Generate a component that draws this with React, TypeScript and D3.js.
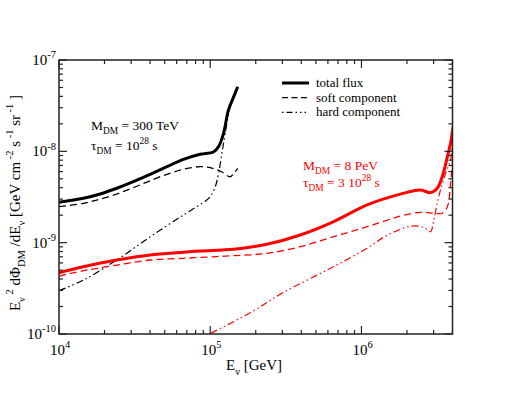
import React from "react";
import * as d3 from "d3";

// ---------- data (E in GeV, E^2 dPhi/dE in GeV cm^-2 s^-1 sr^-1) ----------
const blackTotal: [number, number][] = [
  [1.0e4, 2.77e-9], [1.45e4, 3.06e-9], [1.87e4, 3.41e-9], [2.41e4, 3.94e-9],
  [3.1e4, 4.65e-9], [4.01e4, 5.61e-9], [5.17e4, 6.79e-9], [6.65e4, 8.18e-9],
  [8.59e4, 9.29e-9], [1.05e5, 9.84e-9], [1.135e5, 1.125e-8], [1.225e5, 1.575e-8],
  [1.32e5, 2.84e-8], [1.43e5, 3.97e-8], [1.52e5, 5.1e-8],
];
const blackSoft: [number, number][] = [
  [1.0e4, 2.48e-9], [1.45e4, 2.7e-9], [1.87e4, 2.99e-9], [2.41e4, 3.41e-9],
  [3.1e4, 4.0e-9], [4.01e4, 4.77e-9], [5.17e4, 5.61e-9], [6.65e4, 6.36e-9],
  [8.59e4, 6.79e-9], [1.0e5, 6.62e-9], [1.165e5, 6.09e-9], [1.355e5, 5.27e-9],
  [1.43e5, 5.74e-9], [1.52e5, 6.52e-9],
];
const blackHard: [number, number][] = [
  [1.0e4, 2.98e-10], [1.45e4, 3.9e-10], [2.41e4, 6.46e-10], [4.01e4, 1.16e-9],
  [6.65e4, 2.01e-9], [9.49e4, 2.93e-9], [1.0e5, 3.19e-9], [1.08e5, 4.1e-9],
  [1.135e5, 5.74e-9], [1.195e5, 9.51e-9], [1.256e5, 1.575e-8], [1.355e5, 3.08e-8],
  [1.465e5, 4.5e-8], [1.52e5, 5.1e-8],
];
const redTotal: [number, number][] = [
  [1.0e4, 4.69e-10], [1.45e4, 5.46e-10], [2.41e4, 6.46e-10], [4.01e4, 7.33e-10],
  [6.65e4, 7.84e-10], [8.59e4, 8.11e-10], [1.426e5, 8.45e-10], [2.37e5, 9.59e-10],
  [3.94e5, 1.213e-9], [6.56e5, 1.7e-9], [1.09e6, 2.59e-9], [1.81e6, 3.4e-9],
  [2.46e6, 3.77e-9], [2.86e6, 3.53e-9], [3.17e6, 3.94e-9], [3.42e6, 5.27e-9],
  [3.7e6, 8.73e-9], [3.88e6, 1.224e-8], [4.04e6, 1.86e-8],
];
const redSoft: [number, number][] = [
  [1.0e4, 4.31e-10], [1.45e4, 4.93e-10], [2.41e4, 5.69e-10], [4.01e4, 6.46e-10],
  [6.65e4, 6.74e-10], [1.107e5, 7.05e-10], [1.426e5, 7.2e-10], [2.37e5, 7.63e-10],
  [3.94e5, 9.03e-10], [6.56e5, 1.162e-9], [1.09e6, 1.496e-9], [1.81e6, 1.95e-9],
  [2.46e6, 2.15e-9], [3.01e6, 2.1e-9], [3.42e6, 2.1e-9], [3.7e6, 2.48e-9],
  [3.88e6, 4.47e-9], [4.03e6, 8.73e-9],
];
const redHard: [number, number][] = [
  [1.01e5, 1.02e-10], [1.84e5, 1.71e-10], [3.06e5, 2.86e-10], [5.93e5, 5.02e-10],
  [1.09e6, 8.67e-10], [1.405e6, 1.15e-9], [1.81e6, 1.4e-9], [2.15e6, 1.52e-9],
  [2.59e6, 1.47e-9], [2.86e6, 1.318e-9], [3.01e6, 1.77e-9], [3.17e6, 2.7e-9],
  [3.33e6, 3.77e-9], [3.6e6, 5.74e-9], [3.88e6, 8.04e-9], [3.98e6, 1.224e-8],
];

const xMajor = [4, 5, 6];
const yMajor = [-10, -9, -8, -7];
const legendLabels = ["total flux", "soft component", "hard component"];

// ---------- layout ----------
const W = 510, H = 394;
const L = 59, R = 452.5, T = 60, B = 334;
const FONT = "'Liberation Serif', 'Times New Roman', serif";

const x = d3.scaleLog().domain([1e4, 4e6]).range([L, R]);
const y = d3.scaleLog().domain([1e-10, 1e-7]).range([B, T]);

const line = d3
  .line<[number, number]>()
  .x((d) => x(d[0]))
  .y((d) => y(d[1]))
  .curve(d3.curveCatmullRom.alpha(0.5));

type Seg = { t: string; s?: "sub" | "sup" };
function Rich({ segs, size, ...rest }: { segs: Seg[]; size: number; [k: string]: any }) {
  let cur = 0;
  return (
    <text fontFamily={FONT} fontSize={size} {...rest}>
      {segs.map((sg, i) => {
        const target = sg.s === "sub" ? size * 0.3 : sg.s === "sup" ? -size * 0.45 : 0;
        const dy = target - cur;
        cur = target;
        return (
          <tspan key={i} dy={dy} fontSize={sg.s ? size * 0.7 : size}>
            {sg.t}
          </tspan>
        );
      })}
    </text>
  );
}

const SOFT_DASH = "7,4";
const HARD_DASH = "7,3,1.5,3,1.5,3";

export default function App() {
  const xMinor: number[] = [];
  for (let d = 4; d <= 6; d++)
    for (let k = 2; k <= 9; k++) {
      const v = k * Math.pow(10, d);
      if (v <= 4e6) xMinor.push(v);
    }
  const yMinor: number[] = [];
  for (let d = -10; d < -7; d++)
    for (let k = 2; k <= 9; k++) yMinor.push(k * Math.pow(10, d));

  const axisColor = "#222";
  const series = [
    { data: blackTotal, color: "#000", w: 3, dash: undefined },
    { data: blackSoft, color: "#000", w: 1.3, dash: SOFT_DASH },
    { data: blackHard, color: "#000", w: 1.2, dash: HARD_DASH },
    { data: redTotal, color: "#ff0000", w: 3, dash: undefined },
    { data: redSoft, color: "#ff0000", w: 1.3, dash: SOFT_DASH },
    { data: redHard, color: "#ff0000", w: 1.2, dash: HARD_DASH },
  ];

  return (
    <svg width={W} height={H} style={{ position: "absolute", left: 0, top: 0 }}>
      <defs>
        <clipPath id="plot">
          <rect x={L} y={T} width={R - L} height={B - T} />
        </clipPath>
      </defs>
      <rect width={W} height={H} fill="#fff" />

      <g clipPath="url(#plot)" fill="none">
        {series.map((s, i) => (
          <path
            key={i}
            d={line(s.data) || ""}
            stroke={s.color}
            strokeWidth={s.w}
            strokeDasharray={s.dash}
            strokeLinejoin="round"
          />
        ))}
      </g>

      {/* ticks */}
      <g stroke={axisColor} strokeWidth={1.2}>
        {xMajor.map((e) => {
          const px = x(Math.pow(10, e));
          return (
            <g key={"xm" + e}>
              <line x1={px} x2={px} y1={B} y2={B - 8} />
              <line x1={px} x2={px} y1={T} y2={T + 8} />
            </g>
          );
        })}
        {xMinor.map((v) => {
          const px = x(v);
          return (
            <g key={"xn" + v}>
              <line x1={px} x2={px} y1={B} y2={B - 4} />
              <line x1={px} x2={px} y1={T} y2={T + 4} />
            </g>
          );
        })}
        {yMajor.map((e) => {
          const py = y(Math.pow(10, e));
          return (
            <g key={"ym" + e}>
              <line x1={L} x2={L + 8} y1={py} y2={py} />
              <line x1={R} x2={R - 8} y1={py} y2={py} />
            </g>
          );
        })}
        {yMinor.map((v) => {
          const py = y(v);
          return (
            <g key={"yn" + v}>
              <line x1={L} x2={L + 4} y1={py} y2={py} />
              <line x1={R} x2={R - 4} y1={py} y2={py} />
            </g>
          );
        })}
      </g>
      <rect x={L} y={T} width={R - L} height={B - T} fill="none" stroke={axisColor} strokeWidth={1.5} />

      {/* tick labels */}
      {xMajor.map((e) => (
        <Rich
          key={"xl" + e}
          x={x(Math.pow(10, e)) - 9}
          y={355}
          size={15}
          segs={[{ t: "10" }, { t: String(e), s: "sup" }]}
        />
      ))}
      {yMajor.map((e) => (
        <Rich
          key={"yl" + e}
          x={56}
          y={y(Math.pow(10, e)) + 5}
          size={15}
          textAnchor="end"
          segs={[{ t: "10" }, { t: String(e), s: "sup" }]}
        />
      ))}

      {/* axis labels */}
      <Rich
        x={226}
        y={370}
        size={15}
        segs={[{ t: "E" }, { t: "ν", s: "sub" }, { t: " [GeV]" }]}
      />
      <Rich
        transform="translate(20,203) rotate(-90)"
        textAnchor="middle"
        size={15}
        segs={[
          { t: "E" },
          { t: "ν", s: "sub" },
          { t: " 2", s: "sup" },
          { t: " dΦ" },
          { t: "DM", s: "sub" },
          { t: " /dE" },
          { t: "ν", s: "sub" },
          { t: " [GeV cm" },
          { t: " -2", s: "sup" },
          { t: " s" },
          { t: " -1", s: "sup" },
          { t: " sr" },
          { t: " -1", s: "sup" },
          { t: " ]" },
        ]}
      />

      {/* annotations */}
      <Rich x={91} y={130} size={13.5} segs={[{ t: "M" }, { t: "DM", s: "sub" }, { t: " = 300 TeV" }]} />
      <Rich x={91} y={150} size={13.5} segs={[{ t: "τ" }, { t: "DM", s: "sub" }, { t: " = 10" }, { t: "28", s: "sup" }, { t: " s" }]} />
      <Rich x={303} y={170} size={13.5} fill="#ff0000" segs={[{ t: "M" }, { t: "DM", s: "sub" }, { t: " = 8 PeV" }]} />
      <Rich
        x={303}
        y={187}
        size={13.5}
        fill="#ff0000"
        segs={[{ t: "τ" }, { t: "DM", s: "sub" }, { t: " = 3 10" }, { t: "28", s: "sup" }, { t: " s" }]}
      />

      {/* legend */}
      {legendLabels.map((lab, i) => {
        const ly = 83 + i * 14.7;
        const st = [
          { w: 3, dash: undefined },
          { w: 1.3, dash: "6,3.5" },
          { w: 1.2, dash: "1.5,3,6,3,1.5,3,1.5,3" },
        ][i];
        return (
          <g key={lab}>
            <line x1={282} x2={309} y1={ly} y2={ly} stroke="#000" strokeWidth={st.w} strokeDasharray={st.dash} />
            <text x={316} y={ly + 4} fontFamily={FONT} fontSize={13}>
              {lab}
            </text>
          </g>
        );
      })}
    </svg>
  );
}
